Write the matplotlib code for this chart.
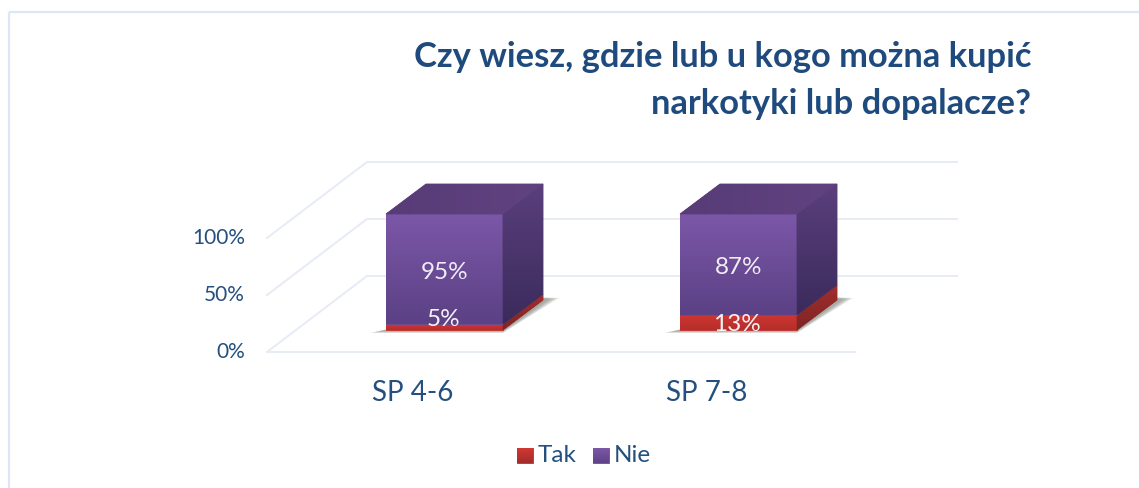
import numpy as np
import matplotlib
matplotlib.use('Agg')
import matplotlib.pyplot as plt
from matplotlib.patches import Polygon, Rectangle
from matplotlib.colors import LinearSegmentedColormap

categories = ['SP 4-6', 'SP 7-8']
tak = [5, 13]
nie = [95, 87]
y_ticks = [0, 50, 100]
series_names = ['Tak', 'Nie']
title_lines = ['Czy wiesz, gdzie lub u kogo można kupić', 'narkotyki lub dopalacze?']

NAVY = '#1f4a7d'
TEXT = '#24507f'
GRID = '#e6ebf5'
plt.rcParams['font.family'] = ['Lato', 'DejaVu Sans']

# pixel layout of the fake 3d plot
PX_PER_PCT = 1.16
BAR_LEFT = 386
BAR_STEP = 294
BAR_W = 117
BASE_Y = 330
DEPTH_X, DEPTH_Y = 40, -30


def bar_x(i):
    return BAR_LEFT + i * BAR_STEP


def val_y(v):
    return BASE_Y - v * PX_PER_PCT


def gradient_poly(ax, pts, top, bottom, horizontal=False, z=3):
    # gradient image clipped by a polygon, solid one under it hides the seams
    pts = np.array(pts, dtype=float)
    cmap = LinearSegmentedColormap.from_list('g', [top, bottom])
    grad = np.linspace(0, 1, 64).reshape(-1, 1)
    if horizontal:
        grad = grad.T
    ax.add_patch(Polygon(pts, closed=True, fc=cmap(0.5), ec=cmap(0.5), lw=0.6, zorder=z))
    im = ax.imshow(grad, cmap=cmap, aspect='auto', zorder=z,
                   extent=(pts[:, 0].min(), pts[:, 0].max(), pts[:, 1].max(), pts[:, 1].min()))
    clip = Polygon(pts, closed=True, transform=ax.transData, fc='none', ec='none')
    ax.add_patch(clip)
    im.set_clip_path(clip)


def draw_block(ax, i, v0, v1, cols):
    x0, x1 = bar_x(i), bar_x(i) + BAR_W
    y0, y1 = val_y(v0), val_y(v1)
    gradient_poly(ax, [(x0, y1), (x1, y1), (x1, y0), (x0, y0)], cols[0], cols[1])
    gradient_poly(ax, [(x1, y1), (x1 + DEPTH_X, y1 + DEPTH_Y), (x1 + DEPTH_X, y0 + DEPTH_Y), (x1, y0)], cols[2], cols[3])


def draw_shadow(ax, x0, x1):
    # soft shadow, stacked see-through polygons get darker inwards
    for grow in [5, 4, 3, 2, 1, 0]:
        pts = [(x0 - 6 - grow * 2, BASE_Y + 1 + grow * 0.4),
               (x1, BASE_Y + 1 + grow * 0.4),
               (x1 + DEPTH_X + 6 + grow * 2, BASE_Y + DEPTH_Y - 1 - grow * 0.2),
               (x1 + DEPTH_X - 6, BASE_Y + DEPTH_Y - 2 - grow * 0.2)]
        ax.add_patch(Polygon(pts, closed=True, fc='#7f847c', ec='none', alpha=0.17, zorder=2))


fig = plt.figure(figsize=(11.39, 4.88), dpi=100)
ax = fig.add_axes([0, 0, 1, 1])
ax.axis('off')

# outer frame
ax.add_patch(Rectangle((8.5, 11.5), 1140, 600, fc='none', ec='#dce6f6', lw=1.6, zorder=1))

# walls and grid
for v in y_ticks:
    h = v * 1.14
    ax.plot([267, 367, 957], [352 - h, 276 - h, 276 - h], color=GRID, lw=1.4, zorder=1)
ax.plot([267, 855], [352, 352], color=GRID, lw=1.4, zorder=1)

for v in y_ticks:
    ax.text(245, 352 - v * 1.14, f'{v}%', ha='right', va='center', color=TEXT, fontsize=15)

for i, cat in enumerate(categories):
    x0 = bar_x(i)
    x1 = x0 + BAR_W
    draw_shadow(ax, x0, x1)
    draw_block(ax, i, 0, tak[i], ['#cf3733', '#b52e2b', '#a32e2c', '#7d2524'])
    draw_block(ax, i, tak[i], tak[i] + nie[i], ['#7c57a8', '#5b4185', '#5a3f7c', '#3b2b5c'])
    # top face
    top = val_y(tak[i] + nie[i])
    gradient_poly(ax, [(x0, top), (x1, top), (x1 + DEPTH_X, top + DEPTH_Y), (x0 + DEPTH_X, top + DEPTH_Y)],
                  '#573c78', '#60427f', horizontal=True)
    # data labels
    ax.text(x0 + 59, val_y(tak[i] + nie[i] / 2) + 3, f'{nie[i]}%', ha='center', va='center', color='#f1edf6', fontsize=17.5, zorder=5)
    low_y = min(val_y(tak[i] / 2), 318) if tak[i] < 10 else val_y(tak[i] / 2)
    ax.text(x0 + 57, low_y + 2, f'{tak[i]}%', ha='center', va='center', color='#f5f1f6', fontsize=17.5, zorder=5)
    ax.text(x0 + 27, 393, cat, ha='center', va='center', color=TEXT, fontsize=20)

# legend
leg_x = [517, 593]
leg_cols = [('#d03834', '#a52c2a'), ('#7c57a8', '#5f4388')]
for name, lx, c in zip(series_names, leg_x, leg_cols):
    gradient_poly(ax, [(lx, 448), (lx + 16, 448), (lx + 16, 463), (lx, 463)], c[0], c[1])
    ax.text(lx + 21, 456, name, ha='left', va='center', color=TEXT, fontsize=17.5)

# title
ax.text(1031, 67, title_lines[0], ha='right', va='baseline', color=NAVY, fontsize=24.8, fontweight='bold')
ax.text(1031, 114, title_lines[1], ha='right', va='baseline', color=NAVY, fontsize=24.8, fontweight='bold')

ax.set_xlim(0, 1139)
ax.set_ylim(488, 0)
fig.savefig('out.png', dpi=100)
